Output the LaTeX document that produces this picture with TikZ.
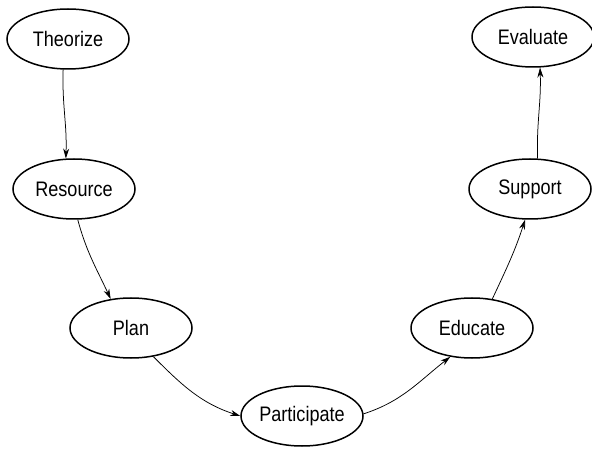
\documentclass[tikz,border=0pt]{standalone}
\usepackage{fontspec}
\setmainfont{Liberation Sans}[FakeStretch=0.86]
\usetikzlibrary{shapes.geometric,arrows.meta}
\tikzset{
  stage/.style={ellipse,draw,line width=1.5pt,minimum width=122pt,minimum height=60pt,inner sep=0pt,font=\fontsize{21}{24}\selectfont},
  link/.style={-{Stealth[length=10pt,width=6pt]},line width=0.75pt}
}
\begin{document}
\begin{tikzpicture}[x=1pt,y=-1pt]
\useasboundingbox (0,0) rectangle (592,449);
\node[stage] (th) at (68,39) {Theorize};
\node[stage] (re) at (74,189) {Resource};
\node[stage] (pl) at (131,328) {Plan};
\node[stage] (pa) at (302,416) {Participate};
\node[stage] (ed) at (472,328) {Educate};
\node[stage] (su) at (530,189) {Support};
\node[stage] (ev) at (533,37) {Evaluate};
\draw[link] (th.-99) to[out=-92,in=88] (re.105);
\draw[link] (re.-83) to[out=-75,in=115] (pl.125);
\draw[link] (pl.-52) to[out=-45,in=162] (pa.180);
\draw[link] (pa.2) to[out=18,in=-142] (ed.-127);
\draw[link] (ed.55) to[out=65,in=-108] (su.-99);
\draw[link] (su.76) to[out=92,in=-88] (ev.-77);
\end{tikzpicture}
\end{document}
